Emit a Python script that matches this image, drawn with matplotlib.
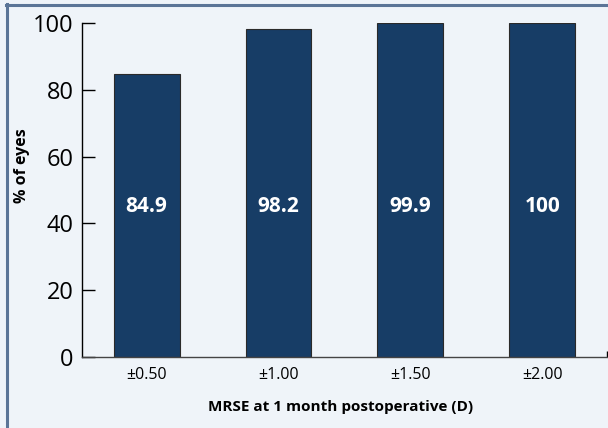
import matplotlib.pyplot as plt
from matplotlib.lines import Line2D

categories = ['±0.50', '±1.00', '±1.50', '±2.00']
values = [84.9, 98.2, 99.9, 100]
labels = ['84.9', '98.2', '99.9', '100']

plt.rcParams['font.family'] = ['Open Sans', 'DejaVu Sans']

bg = '#eff4f9'
bar_color = '#173d66'
W, H = 608, 428

fig = plt.figure(figsize=(6.08, 4.28), dpi=100)
fig.patch.set_facecolor(bg)
# frame: only left and top edges show in the reference
fig.add_artist(Line2D([7 / W, 7 / W], [0, 1 - 4 / H], transform=fig.transFigure,
                      color='#5b7597', linewidth=2.2, zorder=10))
fig.add_artist(Line2D([6 / W, 1], [1 - 5 / H, 1 - 5 / H], transform=fig.transFigure,
                      color='#5b7597', linewidth=2.2, zorder=10))

ax = fig.add_axes([0.135, 0.166, 0.863, 0.780])
ax.set_facecolor(bg)
x = range(len(categories))
ax.bar(x, values, width=0.5, color=bar_color, edgecolor='#2a2a2a', linewidth=0.8)
for i, lab in enumerate(labels):
    ax.text(i, 45, lab, ha='center', va='center', color='white',
            fontsize=15, fontweight='bold')

ax.set_xlim(-0.49, 3.49)
ax.set_ylim(0, 100)
ax.set_yticks([0, 20, 40, 60, 80, 100])
ax.tick_params(axis='y', direction='in', length=9.5, width=1, labelsize=17, pad=6)
ax.set_xticks(list(x))
ax.set_xticklabels(categories)
ax.tick_params(axis='x', length=0, labelsize=11.5, pad=7)
ax.set_xticks([3.49], minor=True)
ax.tick_params(axis='x', which='minor', direction='in', length=4, width=1)
for s in ['top', 'right']:
    ax.spines[s].set_visible(False)
ax.spines['left'].set_linewidth(1)
ax.spines['bottom'].set_linewidth(1)
ax.spines['bottom'].set_color('#444444')

fig.text(341 / W, 1 - 407 / H, 'MRSE at 1 month postoperative (D)', fontsize=11,
         fontweight='bold', ha='center', va='center')
fig.text(22 / W, 1 - 166 / H, '% of eyes', fontsize=11.5, fontweight='bold',
         rotation=90, ha='center', va='center')

fig.savefig('out.png', dpi=100, facecolor=bg)
